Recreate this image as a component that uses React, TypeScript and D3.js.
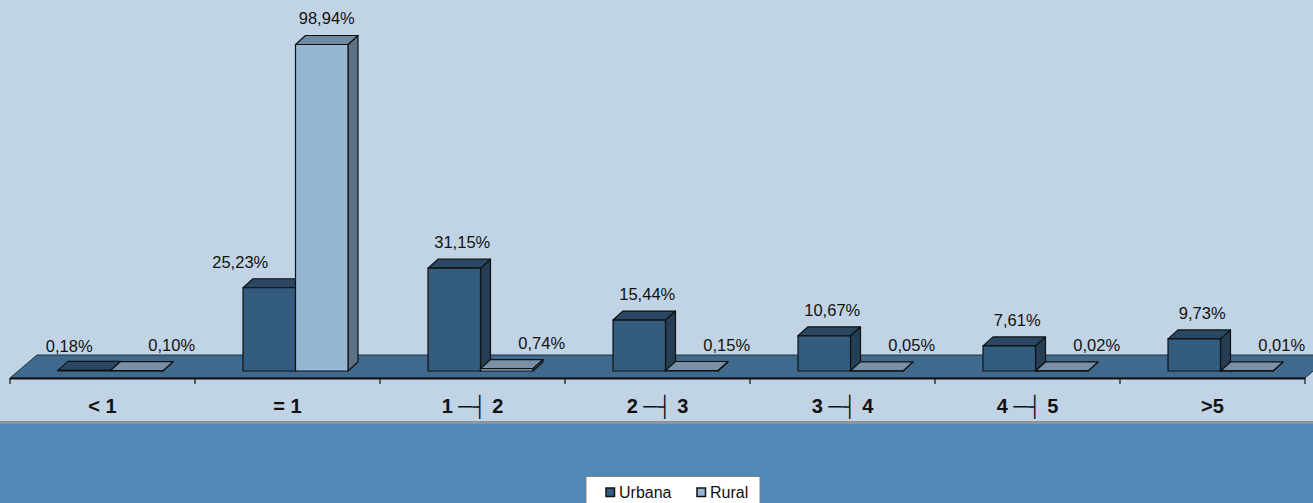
// 3D-style clustered bar chart: Urbana vs Rural share per class
import React from "react";
import * as d3 from "d3";

const categories = ["< 1", "= 1", "1 ─┤ 2", "2 ─┤ 3", "3 ─┤ 4", "4 ─┤ 5", ">5"];
const seriesNames = ["Urbana", "Rural"];
const urbana = [0.18, 25.23, 31.15, 15.44, 10.67, 7.61, 9.73];
const rural = [0.1, 98.94, 0.74, 0.15, 0.05, 0.02, 0.01];

const W = 1313;
const H = 503;

const colors: Record<string, { front: string; top: string; side: string }> = {
  Urbana: { front: "#335C7E", top: "#2A4863", side: "#253E55" },
  Rural: { front: "#95B7D4", top: "#6F8AA3", side: "#5D7184" },
};

const fmt = (v: number) => v.toFixed(2).replace(".", ",") + "%";

export default function App() {
  //floor and axis geometry
  const floorFront = 378;
  const floorDx = 27;
  const floorDy = -23;
  const barDx = 10;
  const barDy = -9;
  const shift = 8; //bars sit a bit behind the floor front edge
  const baseY = floorFront - 7;

  const x = d3.scaleBand().domain(categories).range([10, 1305]);
  const xs = d3.scaleBand().domain(seriesNames).range([40, 145]);
  const y = d3.scaleLinear().domain([0, 100]).range([baseY, 41]);

  const rows = categories.map((c, i) => ({ c, Urbana: urbana[i], Rural: rural[i] }));
  const x0 = x.range()[0];
  const x1 = x.range()[1];

  const bar = (cat: string, s: string, v: number) => {
    const left = (x(cat) as number) + (xs(s) as number) + shift;
    const w = xs.bandwidth();
    const top = y(v);
    const col = colors[s];
    const front = `M${left},${top}H${left + w}V${baseY}H${left}Z`;
    const topFace = `M${left},${top}L${left + barDx},${top + barDy}H${left + w + barDx}L${left + w},${top}Z`;
    const side = `M${left + w},${top}L${left + w + barDx},${top + barDy}V${baseY + barDy}L${left + w},${baseY}Z`;
    return (
      <g key={cat + s}>
        <path d={side} fill={col.side} stroke="#111" strokeWidth={1.2} strokeLinejoin="round" />
        <path d={topFace} fill={s === "Rural" && baseY - top < 5 ? "#7990A7" : col.top} stroke="#111" strokeWidth={1.2} strokeLinejoin="round" />
        <path d={front} fill={col.front} stroke="#111" strokeWidth={1.2} />
      </g>
    );
  };

  const label = (row: any, s: string) => {
    const v = row[s];
    const left = (x(row.c) as number) + (xs(s) as number) + shift;
    const cx = left + xs.bandwidth() / 2;
    const top = y(v);
    const small = baseY - top < 20;
    let dx = 8;
    if (s === "Urbana" && row.Rural > v) dx = -29;
    if (s === "Urbana" && small) dx = -15;
    if (s === "Rural") dx = small ? 35 : 5;
    const dy = s === "Urbana" && small ? -18 : -20;
    return (
      <text key={"l" + row.c + s} x={cx + dx} y={top + dy} textAnchor="middle" fontSize={16.5} fill="#111">
        {fmt(v)}
      </text>
    );
  };

  const floor = `M${x0},${floorFront}L${x0 + floorDx},${floorFront + floorDy}H${x1 + floorDx}L${x1},${floorFront}Z`;
  const ticks = categories.map((c) => x(c) as number).concat([x1]);

  return (
    <svg width={W} height={H} style={{ position: "absolute", left: 0, top: 0 }} fontFamily="Arial, 'Liberation Sans', sans-serif">
      <rect x={0} y={0} width={W} height={423} fill="#C1D4E5" />
      <rect x={0} y={421} width={W} height={3} fill="#8C959E" />
      <rect x={0} y={424} width={W} height={H - 424} fill="#5288B8" />

      <path d={floor} fill="#3F6A8E" stroke="#1E3346" strokeWidth={1} />
      <line x1={x0} x2={x1} y1={floorFront + 0.5} y2={floorFront + 0.5} stroke="#111" strokeWidth={2.2} />
      {ticks.map((t, i) => (
        <line key={"t" + i} x1={t} x2={t} y1={floorFront} y2={floorFront + 6} stroke="#111" strokeWidth={1.2} />
      ))}

      {rows.map((r) => (
        <g key={r.c}>
          {bar(r.c, "Urbana", r.Urbana)}
          {bar(r.c, "Rural", r.Rural)}
        </g>
      ))}

      {rows.map((r) => (
        <g key={"lab" + r.c}>
          {label(r, "Urbana")}
          {label(r, "Rural")}
        </g>
      ))}

      {categories.map((c) => (
        <text key={"c" + c} x={(x(c) as number) + x.bandwidth() / 2} y={413} textAnchor="middle" fontSize={20} fontWeight="bold" fill="#111">
          {c}
        </text>
      ))}

      <g>
        <rect x={586} y={476.5} width={174} height={40} fill="#fff" stroke="#7F7F7F" />
        {seriesNames.map((s, i) => {
          const lx = i === 0 ? 606 : 697;
          return (
            <g key={"lg" + s}>
              <rect x={lx} y={488} width={8.5} height={8.5} fill={colors[s].front} stroke="#111" strokeWidth={1.5} />
              <text x={lx + 13} y={498} fontSize={16} fill="#111">
                {s}
              </text>
            </g>
          );
        })}
      </g>
    </svg>
  );
}
